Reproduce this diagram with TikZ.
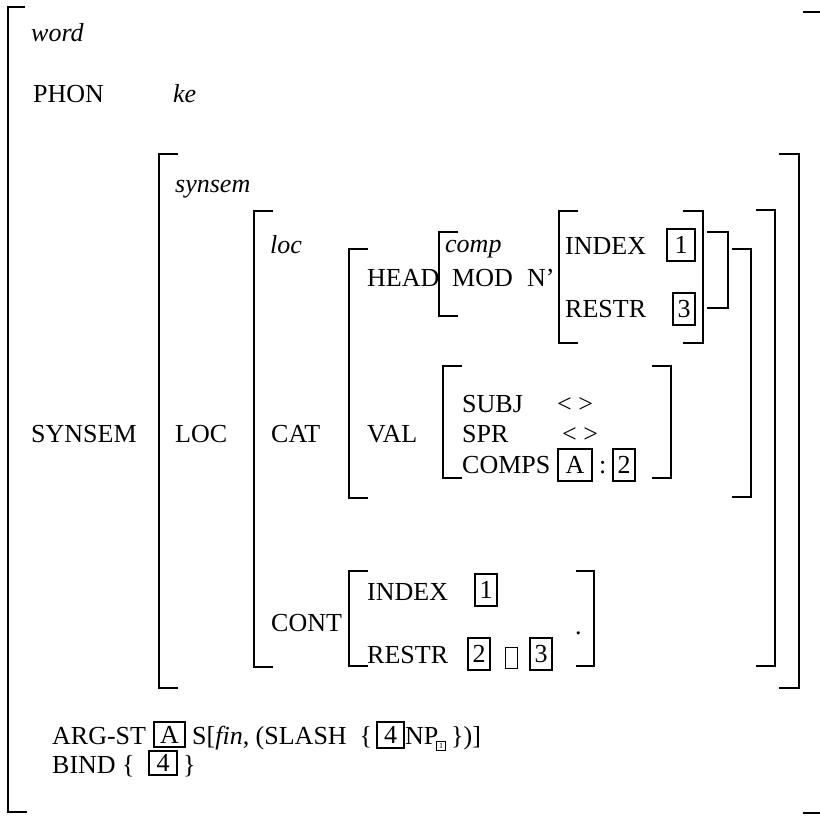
\documentclass[tikz,border=0pt]{standalone}
\usepackage{fontspec}
\setmainfont{Liberation Serif}
\usepackage{tikz}
\newcommand{\avmsize}{\fontsize{26}{31}\selectfont}
\tikzset{
  brk/.style={line width=1.8pt, color=black},
  lbl/.style={font=\avmsize, anchor=base west, inner sep=0pt},
  typ/.style={lbl, font=\avmsize\itshape},
  tag/.style={draw, line width=1.6pt, inner sep=0pt, font=\avmsize,
    minimum height=32pt},
  subtag/.style={draw, line width=1pt, inner sep=0pt,
    font=\fontsize{8}{9}\selectfont, minimum width=9pt, minimum height=9pt},
  tofu/.style={draw, line width=1pt, inner sep=0pt,
    minimum width=12pt, minimum height=21pt}
}

\begin{document}
\begin{tikzpicture}[x=1pt, y=-1pt]
  \clip (0,0) rectangle (820,815);
  % word
  \draw[brk] (25,7) -- (8,7) -- (8,812) -- (27,812);
  \draw[brk] (803,12) -- (822,12) -- (822,813) -- (803,813);
  \node[typ] (wordT) at (31,41) {word};
  \node[lbl] (phonA) at (33,102) {PHON};
  \node[typ] (keV) at (173,102) {ke};
  \node[lbl] (synsemA) at (31,442) {SYNSEM};
  % synsem
  \draw[brk] (178,154) -- (159,154) -- (159,688) -- (178,688);
  \draw[brk] (779,154) -- (799,154) -- (799,688) -- (779,688);
  \node[typ] (synsemT) at (175,192) {synsem};
  \node[lbl] (locA) at (175,442) {LOC};
  % loc
  \draw[brk] (273,211) -- (254,211) -- (254,667) -- (273,667);
  \draw[brk] (756,210) -- (775,210) -- (775,666) -- (756,666);
  \node[typ] (locT) at (270,253) {loc};
  \node[lbl] (catA) at (271,442) {CAT};
  \node[lbl] (contA) at (271,631) {CONT};
  % cat
  \draw[brk] (368,249) -- (349,249) -- (349,498) -- (368,498);
  \draw[brk] (732,249) -- (751,249) -- (751,497) -- (732,497);
  \node[lbl] (headA) at (367,286) {HEAD};
  \node[lbl] (valA) at (367,442) {VAL};
  % head
  \draw[brk] (458,232) -- (439,232) -- (439,316) -- (458,316);
  \draw[brk] (707,232) -- (728,232) -- (728,308) -- (707,308);
  \node[typ] (compT) at (445,252) {comp};
  \node[lbl] (modA) at (452,286) {MOD};
  \node[lbl] (nbar) at (527,286) {N'};
  % mod value
  \draw[brk] (578,211) -- (559,211) -- (559,343) -- (578,343);
  \draw[brk] (683,211) -- (703,211) -- (703,343) -- (683,343);
  \node[lbl] (idxA) at (565,254) {INDEX};
  \node[tag, minimum width=28pt] (tagOneA) at (681,245) {1};
  \node[lbl] (rstA) at (565,317) {RESTR};
  \node[tag, minimum width=22pt] (tagThreeA) at (684,309) {3};
  % val
  \draw[brk] (462,366) -- (443,366) -- (443,478) -- (462,478);
  \draw[brk] (652,366) -- (671,366) -- (671,478) -- (652,478);
  \node[lbl] (subjA) at (462,412) {SUBJ};
  \node[lbl] (subjV) at (557,412) {< >};
  \node[lbl] (sprA) at (462,442) {SPR};
  \node[lbl] (sprV) at (562,442) {< >};
  \node[lbl] (compsA) at (462,473) {COMPS};
  \node[tag, minimum width=34pt] (tagA) at (575,465) {A};
  \node[lbl] (colon) at (599,473) {:};
  \node[tag, minimum width=22pt] (tagTwoA) at (624,465) {2};
  % cont
  \draw[brk] (368,571) -- (349,571) -- (349,666) -- (368,666);
  \draw[brk] (576,571) -- (594,571) -- (594,666) -- (576,666);
  \node[lbl] (idxB) at (367,600) {INDEX};
  \node[tag, minimum width=22pt] (tagOneB) at (486,590) {1};
  \node[lbl] (rstB) at (367,663) {RESTR};
  \node[tag, minimum width=22pt] (tagTwoB) at (479,654) {2};
  \node[tofu] (conj) at (511,657.5) {};
  \node[tag, minimum width=22pt] (tagThreeB) at (541,654) {3};
  \node[lbl] (dot) at (575,634) {.};
  % arg-st and bind
  \node[lbl] (argA) at (52,744) {ARG-ST};
  \node[tag, minimum width=31pt, minimum height=25pt] (tagAB) at (169.5,734.5) {A};
  \node[lbl] (sfin) at (192,744) {S[\textit{fin}, (SLASH~~\{};
  \node[tag, minimum width=27pt, minimum height=26pt] (tagFourA) at (390.5,735) {4};
  \node[lbl] (np) at (405,744) {NP};
  \node[subtag] (tagOneC) at (441,746) {1};
  \node[lbl] (close) at (451,744) {\})]};
  \node[lbl] (bindA) at (52,773) {BIND \{};
  \node[tag, minimum width=28pt, minimum height=24pt] (tagFourB) at (163,763) {4};
  \node[lbl] (bindC) at (183,773) {\}};
\end{tikzpicture}
\end{document}
